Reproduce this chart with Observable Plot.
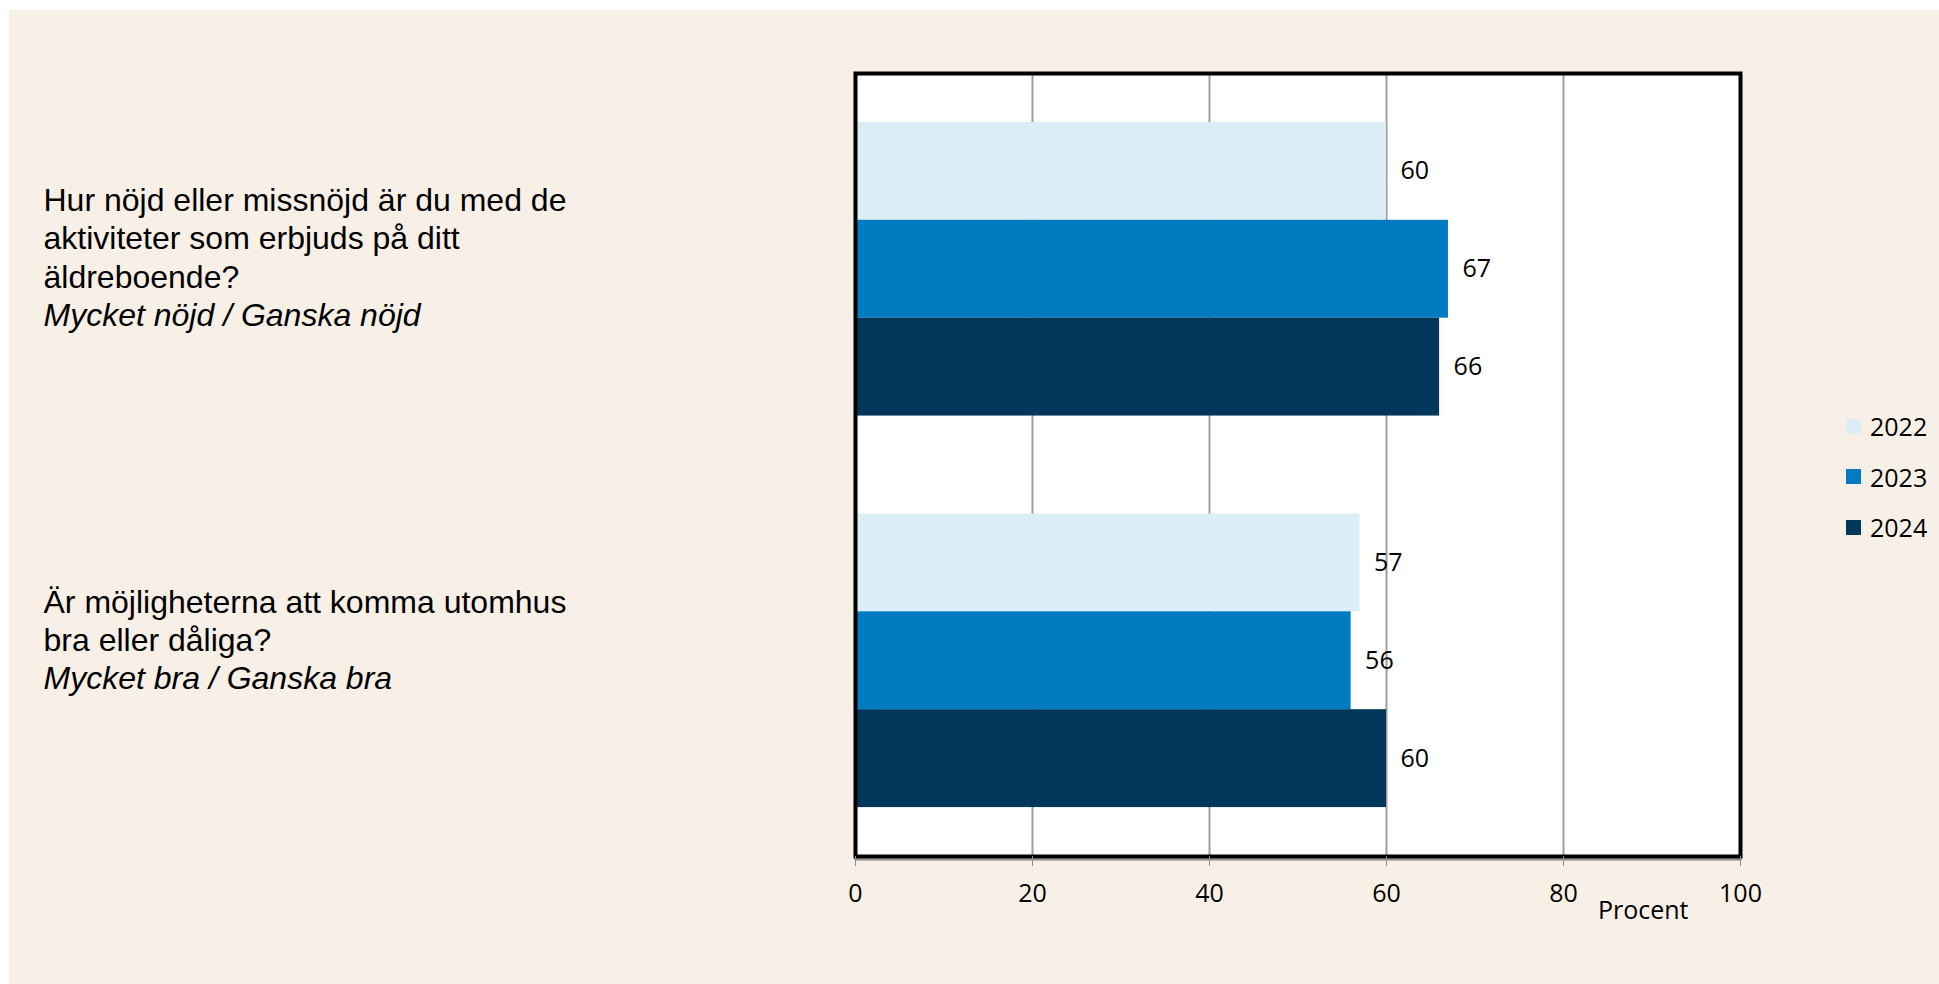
<!DOCTYPE html>
<html>
<head>
<meta charset="utf-8">
<script src="https://cdn.jsdelivr.net/npm/d3@7"></script>
<script src="https://cdn.jsdelivr.net/npm/@observablehq/plot@0.6"></script>
<style>
  html, body { margin: 0; padding: 0; background: #ffffff; width: 1939px; height: 984px; overflow: hidden; }
  #panel { position: absolute; left: 9px; top: 10px; width: 1930px; height: 974px; background: #F8F0E7; }
  #chart { position: absolute; left: 0; top: 0; }
  #legend { position: absolute; left: 1846px; top: 401px; font-family: "Open Sans", sans-serif; font-size: 25px; color: #000; }
  #legend .row { height: 50.5px; display: flex; align-items: center; }
  #legend .sw { width: 15px; height: 15px; margin-right: 9px; }
</style>
</head>
<body>
<div id="panel"></div>
<div id="chart"></div>
<div id="legend"></div>
<script>
// ---- data ----
const questions = [
  "Hur nöjd eller missnöjd är du med de\naktiviteter som erbjuds på ditt\näldreboende?",
  "Är möjligheterna att komma utomhus\nbra eller dåliga?"
];
const answers = ["Mycket nöjd / Ganska nöjd", "Mycket bra / Ganska bra"];
const years = ["2022", "2023", "2024"];
const values2022 = [60, 57];
const values2023 = [67, 56];
const values2024 = [66, 60];
const yearColors = ["#DBEEF5", "#007AC0", "#00375A"];
const xTicks = [0, 20, 40, 60, 80, 100];
const gridTicks = [20, 40, 60, 80];
const xLabel = "Procent";

// ---- build table ----
const series = [values2022, values2023, values2024];
const rows = [];
questions.forEach((q, qi) => years.forEach((yr, yi) =>
  rows.push({q: qi, year: yr, key: qi + "|" + yr, value: series[yi][qi]})));
const yDomain = [];
questions.forEach((q, qi) => {
  if (qi > 0) yDomain.push("gap" + qi);
  years.forEach(yr => yDomain.push(qi + "|" + yr));
});
const labels = questions.map((q, qi) => ({key: qi + "|" + years[1], text: q + "\n" + answers[qi]}));

const labelStyle = {
  y: "key", text: "text", frameAnchor: "left", textAnchor: "start", dx: -812,
  lineHeight: 1.2, fontSize: 32, fontFamily: "'Liberation Sans', Arial, sans-serif",
  fill: "#000"
};

const chart = Plot.plot({
  width: 1939, height: 984,
  marginLeft: 855, marginRight: 199, marginTop: 73, marginBottom: 128,
  style: {background: "transparent", fontFamily: "'Open Sans', sans-serif", fontSize: "25px", overflow: "visible", color: "#000"},
  x: {domain: [0, 100], label: null},
  y: {domain: yDomain, paddingInner: 0, paddingOuter: 0.5, round: false, axis: null},
  color: {domain: years, range: yearColors},
  marks: [
    Plot.frame({fill: "white"}),
    Plot.ruleX(gridTicks, {stroke: "#9E9E9E", strokeWidth: 2}),
    Plot.barX(rows, {x: "value", y: "key", fill: "year", insetTop: 0, insetBottom: 0}),
    Plot.text(rows, {x: "value", y: "key", text: d => String(d.value), textAnchor: "start", dx: 14, fill: "#000", fontSize: 25}),
    Plot.frame({anchor: "bottom", stroke: "#8C8C8C", strokeWidth: 2, dy: 3}),
    Plot.frame({stroke: "#000", strokeWidth: 4}),
    Plot.axisX(xTicks, {tickSize: 10, tickPadding: 18, stroke: "#8C8C8C", fill: "#000", fontSize: 25, label: null}),
    Plot.text([xLabel], {frameAnchor: "bottom-right", textAnchor: "end", dx: -52, dy: 62, fill: "#000", fontSize: 25}),
    Plot.text(labels.slice(0, 1), {...labelStyle, dy: -13}),
    Plot.text(labels.slice(1, 2), {...labelStyle, dy: -22})
  ]
});
document.getElementById("chart").appendChild(chart);

// italic for the answer line of each label
d3.select(chart).selectAll("tspan, text").each(function() {
  if (answers.includes(this.textContent)) this.setAttribute("font-style", "italic");
});

// legend
const legend = d3.select("#legend");
years.forEach((yr, i) => {
  const row = legend.append("div").attr("class", "row");
  row.append("div").attr("class", "sw").style("background", yearColors[i]);
  row.append("span").text(yr);
});
</script>
</body>
</html>
